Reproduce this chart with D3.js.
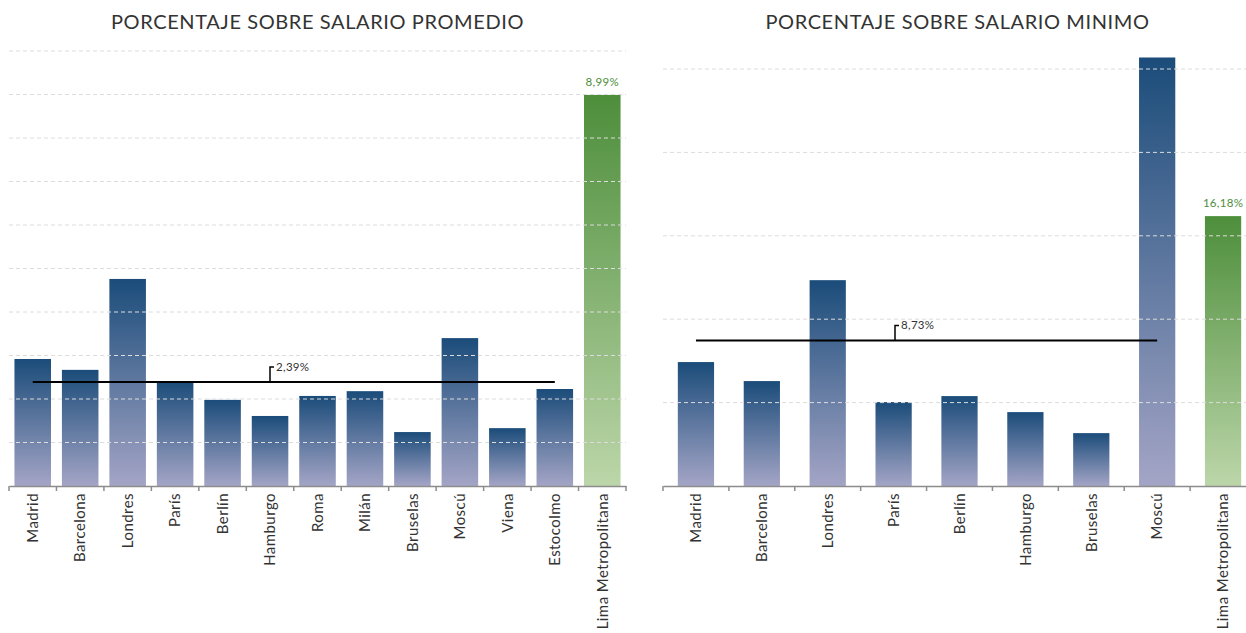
<!DOCTYPE html>
<html>
<head>
<meta charset="utf-8">
<script src="https://cdn.jsdelivr.net/npm/d3@7"></script>
<style>
  body { margin: 0; background: #fff; font-family: Lato, "Open Sans", sans-serif; }
  svg text { font-family: Lato, "Open Sans", sans-serif; }
</style>
</head>
<body>
<svg id="chart" width="1246" height="633"></svg>
<script>
// datos
var ciudadesPromedio = ["Madrid", "Barcelona", "Londres", "París", "Berlín", "Hamburgo", "Roma", "Milán", "Bruselas", "Moscú", "Viena", "Estocolmo", "Lima Metropolitana"];
var valoresPromedio = [2.92, 2.67, 4.76, 2.41, 1.98, 1.61, 2.07, 2.18, 1.24, 3.40, 1.33, 2.23, 8.99];
var mediaPromedio = 2.39;

var ciudadesMinimo = ["Madrid", "Barcelona", "Londres", "París", "Berlín", "Hamburgo", "Bruselas", "Moscú", "Lima Metropolitana"];
var valoresMinimo = [7.43, 6.29, 12.34, 5.03, 5.39, 4.43, 3.17, 25.69, 16.18];
var mediaMinimo = 8.73;

var titulos = ["PORCENTAJE SOBRE SALARIO PROMEDIO", "PORCENTAJE SOBRE SALARIO MINIMO"];

var svg = d3.select("#chart");
var defs = svg.append("defs");

function grad(id, top, bottom) {
    var g = defs.append("linearGradient").attr("id", id)
        .attr("x1", 0).attr("y1", 0).attr("x2", 0).attr("y2", 1);
    g.append("stop").attr("offset", "0%").attr("stop-color", top);
    g.append("stop").attr("offset", "100%").attr("stop-color", bottom);
}
grad("azul", "#1b4c7a", "#a4a5c6");
grad("verde", "#4d8e3b", "#bcd6a9");

function dibujar(opt) {
    var g = svg.append("g");
    var x = d3.scaleBand().domain(opt.cats).range(opt.xr)
        .paddingInner(opt.pad).paddingOuter(opt.pad / 2);
    var y = d3.scaleLinear().domain(opt.dom).range([486, opt.top]);
    var step = x.step();

    g.append("text")
        .attr("x", (opt.xr[0] + opt.xr[1]) / 2 + opt.tdx).attr("y", 29)
        .attr("text-anchor", "middle")
        .attr("font-size", 20).attr("letter-spacing", 0.6).attr("fill", "#333")
        .text(opt.title);

    var last = opt.cats[opt.cats.length - 1];

    // barras
    g.selectAll("rect.bar").data(opt.cats).enter().append("rect")
        .attr("class", "bar")
        .attr("x", function(d) { return x(d); })
        .attr("width", x.bandwidth())
        .attr("y", function(d, i) { return y(opt.vals[i]); })
        .attr("height", function(d, i) { return 486 - y(opt.vals[i]); })
        .attr("fill", function(d) { return d === last ? "url(#verde)" : "url(#azul)"; });

    // grid encima
    g.selectAll("line.grid").data(y.ticks(opt.nt).filter(function(t) { return t > 0; }))
        .enter().append("line")
        .attr("x1", opt.xr[0]).attr("x2", opt.gx2)
        .attr("y1", function(d) { return y(d); }).attr("y2", function(d) { return y(d); })
        .attr("stroke", "#dcdcdc").attr("stroke-dasharray", "4,3").attr("stroke-width", 1);

    // eje x
    var ax = g.append("g").attr("transform", "translate(0,486)")
        .call(d3.axisBottom(x).tickSize(0).tickPadding(0));
    ax.select(".domain").attr("stroke", "#8c8c8c").attr("stroke-width", 1.5);
    ax.selectAll(".tick text")
        .attr("transform", "rotate(-90)")
        .attr("text-anchor", "end")
        .attr("x", -7).attr("y", 0).attr("dy", "0.35em")
        .attr("font-size", 15).attr("letter-spacing", 0.45).attr("fill", "#333")
        .style("font-family", "Lato, 'Open Sans', sans-serif");
    var bounds = opt.cats.map(function(d) { return x(d) - step * opt.pad / 2; });
    bounds.push(opt.xr[1]);
    g.selectAll("line.xt").data(bounds).enter().append("line")
        .attr("x1", function(d) { return d; }).attr("x2", function(d) { return d; })
        .attr("y1", 486).attr("y2", 491)
        .attr("stroke", "#8c8c8c").attr("stroke-width", 1.5);

    // etiqueta ultima barra
    var lv = opt.vals[opt.vals.length - 1];
    g.append("text")
        .attr("x", x(last) + x.bandwidth() / 2).attr("y", y(lv) - 9)
        .attr("text-anchor", "middle").attr("font-size", 11.5).attr("letter-spacing", 0.3).attr("fill", "#4d8e3b")
        .text(d3.format(".2f")(lv).replace(".", ",") + "%");

    // linea media
    var c0 = opt.cats[0], c1 = opt.cats[opt.cats.length - 2];
    var ym = y(opt.media);
    g.append("line")
        .attr("x1", x(c0) + x.bandwidth() / 2).attr("x2", x(c1) + x.bandwidth() / 2)
        .attr("y1", ym).attr("y2", ym)
        .attr("stroke", "#000").attr("stroke-width", 2);
    g.append("path")
        .attr("d", "M" + opt.ax + "," + ym + "V" + (ym - 15) + "h4")
        .attr("fill", "none").attr("stroke", "#000").attr("stroke-width", 1.5);
    g.append("text")
        .attr("x", opt.ax + 6).attr("y", ym - 11)
        .attr("font-size", 11.5).attr("letter-spacing", 0.3).attr("fill", "#333")
        .text(d3.format(".2f")(opt.media).replace(".", ",") + "%");
}

dibujar({cats: ciudadesPromedio, vals: valoresPromedio, media: mediaPromedio, title: titulos[0],
    xr: [9, 626], pad: 0.23, dom: [0, 10], top: 51, nt: 10, gx2: 626, ax: 270, tdx: 0});
dibujar({cats: ciudadesMinimo, vals: valoresMinimo, media: mediaMinimo, title: titulos[1],
    xr: [663, 1256], pad: 0.45, dom: [0, 25], top: 69, nt: 5, gx2: 1246, ax: 895, tdx: -2});
</script>
</body>
</html>
